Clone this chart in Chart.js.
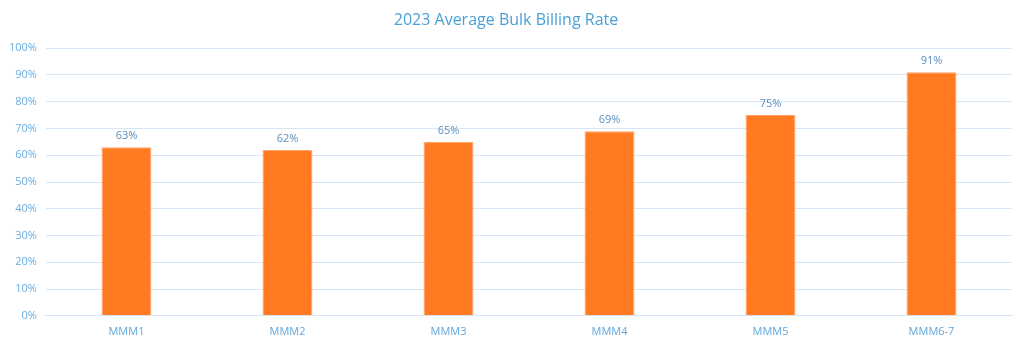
<!DOCTYPE html>
<html>
<head>
<meta charset="utf-8">
<script src="https://cdn.jsdelivr.net/npm/chart.js@4"></script>
<style>
html,body{margin:0;padding:0;background:#fff;}
#wrap{width:1024px;height:346px;}
</style>
</head>
<body>
<div id="wrap"><canvas id="c" width="1024" height="346"></canvas></div>
<script>
const categories = ["MMM1", "MMM2", "MMM3", "MMM4", "MMM5", "MMM6-7"];
const rates = [63, 62, 65, 69, 75, 91];
const yTicks = [0, 10, 20, 30, 40, 50, 60, 70, 80, 90, 100];

const valueLabels = {
  id: 'valueLabels',
  afterDatasetsDraw(chart) {
    const ctx = chart.ctx;
    const meta = chart.getDatasetMeta(0);
    ctx.save();
    ctx.font = '11px "Open Sans", sans-serif';
    ctx.fillStyle = '#5b8fbf';
    ctx.textAlign = 'center';
    ctx.textBaseline = 'bottom';
    meta.data.forEach((bar, i) => {
      ctx.fillText(rates[i] + '%', bar.x, bar.y - 6);
    });
    ctx.restore();
  }
};

new Chart(document.getElementById('c'), {
  type: 'bar',
  data: {
    labels: categories,
    datasets: [{
      data: rates,
      backgroundColor: '#ff7a21',
      borderColor: '#ffa266',
      borderWidth: 1,
      barPercentage: 0.31,
      categoryPercentage: 1
    }]
  },
  options: {
    responsive: false,
    animation: false,
    layout: { padding: { left: 0, right: 12, top: 0, bottom: 7 } },
    plugins: {
      legend: { display: false },
      tooltip: { enabled: false },
      title: {
        display: true,
        text: '2023 Average Bulk Billing Rate',
        color: '#4a9fd6',
        font: { family: '"Open Sans", sans-serif', size: 16, weight: 'normal' },
        padding: { top: 11, bottom: 18 }
      }
    },
    scales: {
      x: {
        grid: { display: false },
        border: { display: true, color: '#d6e6f4', width: 1 },
        ticks: { color: '#5ea6dc', font: { family: '"Open Sans", sans-serif', size: 11 }, padding: 1 }
      },
      y: {
        min: 0, max: 100,
        afterBuildTicks(axis) { axis.ticks = yTicks.map(v => ({ value: v })); },
        grid: { color: '#d6e6f4', lineWidth: 1, drawTicks: false },
        border: { display: false },
        ticks: {
          color: '#6aaee0',
          font: { family: '"Open Sans", sans-serif', size: 11 },
          padding: 9,
          callback: v => v + '%'
        }
      }
    }
  },
  plugins: [valueLabels]
});
</script>
</body>
</html>
